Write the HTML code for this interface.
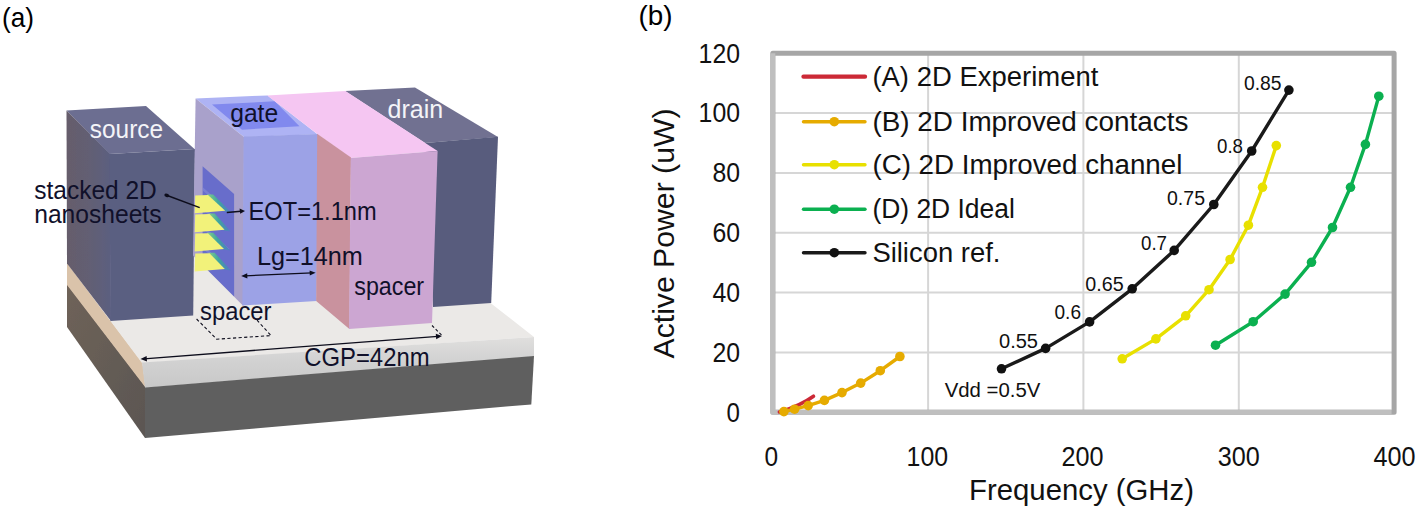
<!DOCTYPE html>
<html lang="en">
<head>
<meta charset="utf-8">
<title>Stacked 2D nanosheet FET and power-frequency benchmark</title>
<style>
html,body{margin:0;padding:0;background:#fff;}
body{width:1419px;height:507px;overflow:hidden;}
svg{display:block;}
text{font-family:"Liberation Sans","DejaVu Sans",sans-serif;}
.lbl{font-size:26px;fill:#10102a;}
.wlbl{font-size:26px;fill:#f4f4f8;}
.tick{font-size:28px;fill:#111;}
.ttl{font-size:29.5px;fill:#111;}
.leg{font-size:27px;fill:#111;}
.dl{font-size:19.5px;fill:#111;}
.pan{font-size:28px;fill:#000;}
</style>
</head>
<body>
<svg width="1419" height="507" viewBox="0 0 1419 507">
<defs>
<linearGradient id="gSrcL" x1="0" y1="0" x2="1" y2="0">
<stop offset="0" stop-color="#665d6b"/><stop offset="0.55" stop-color="#625e74"/><stop offset="1" stop-color="#5b5e80"/>
</linearGradient>
<linearGradient id="gSubL" x1="0" y1="0" x2="1" y2="1">
<stop offset="0" stop-color="#6f6359"/><stop offset="1" stop-color="#5b5652"/>
</linearGradient>
<linearGradient id="gFrontLight" x1="0" y1="0" x2="0" y2="1">
<stop offset="0" stop-color="#e0dfde"/><stop offset="0.45" stop-color="#d2d2d2"/><stop offset="1" stop-color="#c8c8c8"/>
</linearGradient>
<linearGradient id="gTeal" x1="0" y1="0" x2="1" y2="0">
<stop offset="0" stop-color="#86d088"/><stop offset="0.45" stop-color="#3fa59f"/><stop offset="1" stop-color="#5478c6"/>
</linearGradient>
<filter id="soft" x="-2%" y="-2%" width="104%" height="104%"><feGaussianBlur stdDeviation="0.55"/></filter>
<clipPath id="winclip"><polygon points="202.6,166.3 234.1,193.9 234.1,296.5 202.6,265"/></clipPath>
</defs>
<rect x="0" y="0" width="1419" height="507" fill="#ffffff"/>

<!-- ================= PANEL (a) : device illustration ================= -->
<g id="device">
<g filter="url(#soft)">
<!-- substrate -->
<polygon points="67,284 145,386 145,438 67,327" fill="url(#gSubL)"/>
<polygon points="67,263 142.5,363 145.5,387.5 67,285" fill="#dac3aa"/>
<polygon points="67,255 67,263 142,363 534,337 490.5,303 490.5,250" fill="#ebe9e7"/>
<polygon points="142,362.5 534,337 534,356.4 145,387.8" fill="url(#gFrontLight)"/>
<polygon points="145,387.4 534,356 531.3,404.4 145,438" fill="#5f5f5f"/>
<!-- drain -->
<polygon points="345,91 415,87.5 498,137 425,143" fill="#717191"/>
<polygon points="425,143 498,136.8 491.2,303 433,307" fill="#585c7d"/>
<!-- source -->
<polygon points="66.5,110.5 146,106 194.5,149 109.5,154" fill="#6c6e91"/>
<polygon points="66.5,110.5 110,154 111,321 67,263.5" fill="url(#gSrcL)"/>
<polygon points="109.5,154 195,149 193.2,315.5 110.5,321" fill="#5a5e81"/>
<!-- gate -->
<polygon points="195.6,98.6 267.6,95.4 317.5,134.2 244,137" fill="#aeb3f4"/>
<polygon points="212,104.4 274.7,101.3 299.5,126.2 242,129.7" fill="#8189ee"/>
<polygon points="195.6,98.6 244,137 243.4,306 193,255.5" fill="#a9a1cb"/>
<polygon points="202.6,166.3 234.1,193.9 234.1,296.5 202.6,265" fill="#676dcb"/>
<polygon points="243.6,136.6 318,134 316.6,301 242.4,305.5" fill="#9ca2e6"/>
<!-- spacer (pink) -->
<polygon points="267.2,95.4 345.4,91 437.6,151 350.8,158 317,133.8" fill="#f5c6f2"/>
<polygon points="317.2,133.8 351,157.6 349.4,329 316.2,301" fill="#c9929e"/>
<polygon points="350.8,158 437.6,151 432,323 349,329" fill="#cca6d2"/>
<!-- nanosheets -->
<g id="sheets">
<g clip-path="url(#winclip)">
<polygon points="202.6,186.9 202.6,190.4 226,210.9 229.5,210.9" fill="#8b90dd" opacity="0.5"/>
<polygon points="202.6,205.9 202.6,209.4 226,229.9 229.5,229.9" fill="#8b90dd" opacity="0.5"/>
<polygon points="202.6,225.1 202.6,228.6 226,249.1 229.5,249.1" fill="#8b90dd" opacity="0.5"/>
<polygon points="202.6,245.1 202.6,248.6 226,269.1 229.5,269.1" fill="#8b90dd" opacity="0.5"/>
<polygon points="207.0,194.6 213.2,194.6 231.4,212.4 224.7,211.4" fill="url(#gTeal)"/>
<polygon points="208.5,213.6 214.7,213.6 230.8,231.4 224.1,230.4" fill="url(#gTeal)"/>
<polygon points="207.0,232.8 213.2,232.8 230.2,250.6 223.5,249.6" fill="url(#gTeal)"/>
<polygon points="208.5,252.8 214.7,252.8 231.0,270.6 224.3,269.6" fill="url(#gTeal)"/>
</g>
<polygon points="195.2,195.4 208.0,195.0 225.2,210.8 194.7,213.2" fill="#f2f27a"/>
<polygon points="195.2,214.4 209.5,214.0 224.6,229.8 194.7,232.2" fill="#f2f27a"/>
<polygon points="195.2,233.6 208.0,233.2 224.0,249.0 194.7,251.4" fill="#f2f27a"/>
<polygon points="195.2,253.6 209.5,253.2 224.8,269.0 194.7,271.4" fill="#f2f27a"/>
</g>
</g>
<!-- annotation lines -->
<g stroke="#0d0d1c" stroke-width="1.3" fill="none">
<line x1="166.6" y1="195.3" x2="199.7" y2="207.6" stroke-width="1.5"/>
<line x1="226.8" y1="212.6" x2="241" y2="211.3" stroke-width="1.5"/>
<line x1="245" y1="275.8" x2="312" y2="272.9"/>
<line x1="144" y1="358.8" x2="438" y2="336.3"/>
<polyline points="196.6,319 216.7,339.2 271.1,335.6 257,320.2" stroke-dasharray="3.2,2.4" stroke-width="1.1"/>
<line x1="432" y1="325.5" x2="441.5" y2="335" stroke-dasharray="3,2.2" stroke-width="1.1"/>
</g>
<g fill="#0d0d1c">
<ellipse cx="166.8" cy="195.4" rx="2.5" ry="1.7" transform="rotate(20 166.8 195.4)"/>
<polygon points="245,211 239.6,208.6 240.2,213.8"/>
<polygon points="241.2,276 247.2,273.2 247.4,278.4"/>
<polygon points="315.6,272.8 309.6,270.4 309.8,275.6"/>
<polygon points="140.5,359.1 146.6,356 147,361.4"/>
<polygon points="442,336 435.8,333.8 436.2,339.2"/>
</g>
<!-- labels -->
<text class="wlbl" x="89.8" y="137.5" textLength="73.3" lengthAdjust="spacingAndGlyphs">source</text>
<text class="lbl" x="230.2" y="122.1" textLength="48" lengthAdjust="spacingAndGlyphs">gate</text>
<text class="wlbl" x="387.5" y="118.3" textLength="55.6" lengthAdjust="spacingAndGlyphs">drain</text>
<text class="lbl" x="34.2" y="198.9" textLength="122.6" lengthAdjust="spacingAndGlyphs">stacked 2D</text>
<text class="lbl" x="34.2" y="222.5" textLength="127.3" lengthAdjust="spacingAndGlyphs">nanosheets</text>
<text class="lbl" x="248.6" y="219.8" textLength="128" lengthAdjust="spacingAndGlyphs">EOT=1.1nm</text>
<text class="lbl" x="256.9" y="264.5" textLength="106" lengthAdjust="spacingAndGlyphs">Lg=14nm</text>
<text class="lbl" x="354.3" y="294.7" textLength="69.8" lengthAdjust="spacingAndGlyphs">spacer</text>
<text class="lbl" x="200.1" y="320" textLength="71.4" lengthAdjust="spacingAndGlyphs">spacer</text>
<text class="lbl" x="304.2" y="365.7" textLength="125.4" lengthAdjust="spacingAndGlyphs">CGP=42nm</text>
</g>
<text class="pan" x="2.1" y="26.6" textLength="32" lengthAdjust="spacingAndGlyphs">(a)</text>

<!-- ================= PANEL (b) : chart ================= -->
<text class="pan" x="638.5" y="25.4" textLength="34" lengthAdjust="spacingAndGlyphs">(b)</text>
<g id="chart">
<!-- gridlines -->
<g stroke="#d6d6d6" stroke-width="2" fill="none">
<line x1="928.1" y1="55" x2="928.1" y2="411"/>
<line x1="1083.4" y1="55" x2="1083.4" y2="411"/>
<line x1="1238.8" y1="55" x2="1238.8" y2="411"/>
<line x1="774" y1="113.05" x2="1393" y2="113.05"/>
<line x1="774" y1="172.9" x2="1393" y2="172.9"/>
<line x1="774" y1="232.75" x2="1393" y2="232.75"/>
<line x1="774" y1="292.6" x2="1393" y2="292.6"/>
<line x1="774" y1="352.45" x2="1393" y2="352.45"/>
</g>
<!-- plot border -->
<rect x="772.8" y="53.2" width="621.3" height="359.1" fill="none" stroke="#a6a6a6" stroke-width="5" stroke-linejoin="round"/>
<polyline points="772.8,53.2 772.8,412.3 1391.6,412.3" fill="none" stroke="#bfbfbf" stroke-width="5" stroke-linejoin="round"/>
<!-- series A : red -->
<path d="M779.4,412 Q800,406 813.5,396.2" fill="none" stroke="#cc2936" stroke-width="3.6" stroke-linecap="round"/>
<!-- series B : orange -->
<g fill="#e6ab00" stroke="none">
<polyline points="783.9,411.6 794.6,409.2 808.2,405.6 824.4,400.4 842,392.6 860.7,383.1 880.3,370.7 899.9,356.5" fill="none" stroke="#e6ab00" stroke-width="3.4" stroke-linejoin="round"/>
<circle cx="783.9" cy="411.6" r="4.8"/><circle cx="794.6" cy="409.2" r="4.8"/><circle cx="808.2" cy="405.6" r="4.8"/><circle cx="824.4" cy="400.4" r="4.8"/><circle cx="842" cy="392.6" r="4.8"/><circle cx="860.7" cy="383.1" r="4.8"/><circle cx="880.3" cy="370.7" r="4.8"/><circle cx="899.9" cy="356.5" r="4.8"/>
</g>
<!-- series Si : black -->
<g fill="#111111">
<polyline points="1001.5,368.8 1045.6,348.4 1089.6,321.9 1132.2,288.8 1174.2,250.4 1213.8,204.5 1251.7,151 1288.9,90.1" fill="none" stroke="#1a1a1a" stroke-width="3.4" stroke-linejoin="round"/>
<circle cx="1001.5" cy="368.8" r="4.8"/><circle cx="1045.6" cy="348.4" r="4.8"/><circle cx="1089.6" cy="321.9" r="4.8"/><circle cx="1132.2" cy="288.8" r="4.8"/><circle cx="1174.2" cy="250.4" r="4.8"/><circle cx="1213.8" cy="204.5" r="4.8"/><circle cx="1251.7" cy="151" r="4.8"/><circle cx="1288.9" cy="90.1" r="4.8"/>
</g>
<!-- series C : yellow -->
<g fill="#e8e000">
<polyline points="1122.2,358.8 1155.9,338.9 1185.7,315.8 1209,289.7 1230.1,259.5 1248.4,225.2 1262.5,187.3 1276.3,145.6" fill="none" stroke="#e8e000" stroke-width="3.4" stroke-linejoin="round"/>
<circle cx="1122.2" cy="358.8" r="4.8"/><circle cx="1155.9" cy="338.9" r="4.8"/><circle cx="1185.7" cy="315.8" r="4.8"/><circle cx="1209" cy="289.7" r="4.8"/><circle cx="1230.1" cy="259.5" r="4.8"/><circle cx="1248.4" cy="225.2" r="4.8"/><circle cx="1262.5" cy="187.3" r="4.8"/><circle cx="1276.3" cy="145.6" r="4.8"/>
</g>
<!-- series D : green -->
<g fill="#0bb050">
<polyline points="1215.5,345.2 1253.2,321.7 1285.1,294.1 1311.5,262.3 1332.5,227.5 1350.5,187.3 1365.4,144.4 1378.8,96.2" fill="none" stroke="#0bb050" stroke-width="3.4" stroke-linejoin="round"/>
<circle cx="1215.5" cy="345.2" r="4.8"/><circle cx="1253.2" cy="321.7" r="4.8"/><circle cx="1285.1" cy="294.1" r="4.8"/><circle cx="1311.5" cy="262.3" r="4.8"/><circle cx="1332.5" cy="227.5" r="4.8"/><circle cx="1350.5" cy="187.3" r="4.8"/><circle cx="1365.4" cy="144.4" r="4.8"/><circle cx="1378.8" cy="96.2" r="4.8"/>
</g>
<!-- legend -->
<g stroke-width="3.4" stroke-linecap="round">
<line x1="803.5" y1="76.7" x2="865" y2="76.7" stroke="#cc2936" stroke-width="4.3"/>
<line x1="803.5" y1="121.7" x2="865" y2="121.7" stroke="#e6ab00"/><circle cx="834.3" cy="121.7" r="4.8" fill="#e6ab00"/>
<line x1="803.5" y1="164.7" x2="865" y2="164.7" stroke="#e8e000"/><circle cx="834.3" cy="164.7" r="4.8" fill="#e8e000"/>
<line x1="803.5" y1="209.2" x2="865" y2="209.2" stroke="#0bb050"/><circle cx="834.3" cy="209.2" r="4.8" fill="#0bb050"/>
<line x1="803.5" y1="252.7" x2="865" y2="252.7" stroke="#1a1a1a"/><circle cx="834.3" cy="252.7" r="4.8" fill="#111"/>
</g>
<text class="leg" x="872.4" y="85.5" textLength="226" lengthAdjust="spacingAndGlyphs">(A) 2D Experiment</text>
<text class="leg" x="872.4" y="130.5" textLength="316" lengthAdjust="spacingAndGlyphs">(B) 2D Improved contacts</text>
<text class="leg" x="872.4" y="173.5" textLength="310" lengthAdjust="spacingAndGlyphs">(C) 2D Improved channel</text>
<text class="leg" x="872.4" y="218" textLength="142.4" lengthAdjust="spacingAndGlyphs">(D) 2D Ideal</text>
<text class="leg" x="872.4" y="261.5" textLength="128" lengthAdjust="spacingAndGlyphs">Silicon ref.</text>
<!-- data labels -->
<text class="dl" x="944.7" y="396.6" textLength="95.7" lengthAdjust="spacingAndGlyphs">Vdd =0.5V</text>
<text class="dl" x="999" y="347.5" textLength="39" lengthAdjust="spacingAndGlyphs">0.55</text>
<text class="dl" x="1054.5" y="319.3" textLength="26.5" lengthAdjust="spacingAndGlyphs">0.6</text>
<text class="dl" x="1085.3" y="290.6" textLength="38.4" lengthAdjust="spacingAndGlyphs">0.65</text>
<text class="dl" x="1141" y="250.4" textLength="26" lengthAdjust="spacingAndGlyphs">0.7</text>
<text class="dl" x="1167" y="205.4" textLength="38" lengthAdjust="spacingAndGlyphs">0.75</text>
<text class="dl" x="1217" y="153.3" textLength="26" lengthAdjust="spacingAndGlyphs">0.8</text>
<text class="dl" x="1244" y="89.5" textLength="37.6" lengthAdjust="spacingAndGlyphs">0.85</text>
<!-- y ticks -->
<g class="tick" text-anchor="end">
<text x="740" y="63.1" textLength="41.4" lengthAdjust="spacingAndGlyphs">120</text>
<text x="740" y="122.2" textLength="41.4" lengthAdjust="spacingAndGlyphs">100</text>
<text x="740" y="182.1" textLength="27.6" lengthAdjust="spacingAndGlyphs">80</text>
<text x="740" y="241.9" textLength="27.6" lengthAdjust="spacingAndGlyphs">60</text>
<text x="740" y="301.8" textLength="27.6" lengthAdjust="spacingAndGlyphs">40</text>
<text x="740" y="361.6" textLength="27.6" lengthAdjust="spacingAndGlyphs">20</text>
<text x="740" y="421.5" textLength="13.4" lengthAdjust="spacingAndGlyphs">0</text>
</g>
<!-- x ticks -->
<g class="tick" text-anchor="middle">
<text x="771.2" y="466" textLength="13.6" lengthAdjust="spacingAndGlyphs">0</text>
<text x="927.3" y="466" textLength="41.5" lengthAdjust="spacingAndGlyphs">100</text>
<text x="1082.4" y="466" textLength="42" lengthAdjust="spacingAndGlyphs">200</text>
<text x="1238.8" y="466" textLength="42" lengthAdjust="spacingAndGlyphs">300</text>
<text x="1394.4" y="466" textLength="42" lengthAdjust="spacingAndGlyphs">400</text>
</g>
<!-- axis titles -->
<text class="ttl" x="969" y="500" textLength="225" lengthAdjust="spacingAndGlyphs">Frequency (GHz)</text>
<text class="ttl" transform="translate(674.3,358.5) rotate(-90)" x="0" y="0" textLength="250" lengthAdjust="spacingAndGlyphs">Active Power (uW)</text>
</g>
</svg>
</body>
</html>
